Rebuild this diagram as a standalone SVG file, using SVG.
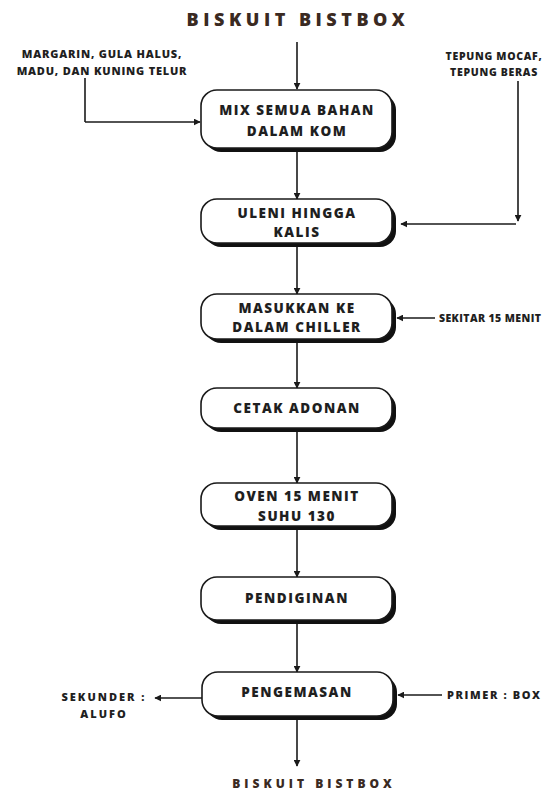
<svg xmlns="http://www.w3.org/2000/svg" width="549" height="794" viewBox="0 0 549 794">
<defs>
<marker id="ah" viewBox="0 0 10 10" refX="9" refY="5" markerWidth="7" markerHeight="7" orient="auto" markerUnits="userSpaceOnUse">
<path d="M0,0 L10,5 L0,10 z" fill="#1a1a1a"/>
</marker>
<style>
.box{fill:#fff;stroke:#1a1a1a;stroke-width:1.6}
.sh{fill:#111}
.bt{font-family:"Open Sans","Liberation Sans",sans-serif;font-weight:800;font-size:13.5px;letter-spacing:1.5px;fill:#1f1f1f;text-anchor:middle}
.lt{font-family:"Open Sans","Liberation Sans",sans-serif;font-weight:800;font-size:11px;letter-spacing:1.3px;fill:#1f1f1f}
.ln{stroke:#1a1a1a;stroke-width:1.6;fill:none}
.ttl{font-family:"Open Sans","Liberation Sans",sans-serif;font-weight:800;fill:#3a2a22;text-anchor:middle}
</style>
</defs>
<rect width="549" height="794" fill="#fff"/>
<text class="ttl" x="298" y="26" style="font-size:18px;letter-spacing:4.5px">BISKUIT BISTBOX</text>

<g id="connectors">
<line class="ln" x1="297" y1="42" x2="297" y2="89" marker-end="url(#ah)"/>
<line class="ln" x1="85" y1="78" x2="85" y2="122"/>
<line class="ln" x1="85" y1="122" x2="200" y2="122" marker-end="url(#ah)"/>
<line class="ln" x1="518" y1="81" x2="518" y2="221" marker-end="url(#ah)"/>
<line class="ln" x1="516" y1="224" x2="401" y2="224" marker-end="url(#ah)"/>
<line class="ln" x1="297" y1="152" x2="297" y2="199" marker-end="url(#ah)"/>
<line class="ln" x1="297" y1="247" x2="297" y2="294" marker-end="url(#ah)"/>
<line class="ln" x1="435" y1="318" x2="397" y2="318" marker-end="url(#ah)"/>
<line class="ln" x1="297" y1="343" x2="297" y2="388" marker-end="url(#ah)"/>
<line class="ln" x1="297" y1="432" x2="297" y2="483" marker-end="url(#ah)"/>
<line class="ln" x1="297" y1="530" x2="297" y2="577" marker-end="url(#ah)"/>
<line class="ln" x1="297" y1="624" x2="297" y2="672" marker-end="url(#ah)"/>
<line class="ln" x1="202" y1="698" x2="155" y2="698" marker-end="url(#ah)"/>
<line class="ln" x1="442" y1="695" x2="398" y2="695" marker-end="url(#ah)"/>
<line class="ln" x1="297" y1="720" x2="297" y2="766" marker-end="url(#ah)"/>
</g>

<g id="in-left">
<text class="lt" x="102" y="58" text-anchor="middle" style="letter-spacing:0.8px">MARGARIN, GULA HALUS,</text>
<text class="lt" x="102" y="75" text-anchor="middle" style="letter-spacing:0.8px">MADU, DAN KUNING TELUR</text>
</g>
<g id="in-right">
<text class="lt" x="494" y="60" text-anchor="middle" style="font-size:10.5px;letter-spacing:0.7px">TEPUNG MOCAF,</text>
<text class="lt" x="494" y="76" text-anchor="middle" style="font-size:10.5px;letter-spacing:0.7px">TEPUNG BERAS</text>
</g>

<g id="n1">
<rect class="sh" x="205" y="94" width="191" height="58" rx="16"/>
<rect class="box" x="201" y="90" width="191" height="58" rx="16"/>
<text class="bt" x="297" y="115">MIX SEMUA BAHAN</text>
<text class="bt" x="297" y="136">DALAM KOM</text>
</g>
<g id="n2">
<rect class="sh" x="205" y="203" width="191" height="44" rx="16"/>
<rect class="box" x="201" y="199" width="191" height="44" rx="16"/>
<text class="bt" x="297" y="218">ULENI HINGGA</text>
<text class="bt" x="297" y="237">KALIS</text>
</g>
<g id="n3">
<rect class="sh" x="205" y="298" width="191" height="45" rx="16"/>
<rect class="box" x="201" y="294" width="191" height="45" rx="16"/>
<text class="bt" x="297" y="313">MASUKKAN KE</text>
<text class="bt" x="297" y="332">DALAM CHILLER</text>
</g>
<g id="sekitar">
<text class="lt" x="439" y="322" style="font-size:10.5px;letter-spacing:0.4px">SEKITAR 15 MENIT</text>
</g>
<g id="n4">
<rect class="sh" x="205" y="392" width="191" height="40" rx="16"/>
<rect class="box" x="201" y="388" width="191" height="40" rx="16"/>
<text class="bt" x="297" y="413">CETAK ADONAN</text>
</g>
<g id="n5">
<rect class="sh" x="205" y="487" width="191" height="43" rx="16"/>
<rect class="box" x="201" y="483" width="191" height="43" rx="16"/>
<text class="bt" x="297" y="501">OVEN 15 MENIT</text>
<text class="bt" x="297" y="521">SUHU 130</text>
</g>
<g id="n6">
<rect class="sh" x="205" y="581" width="191" height="43" rx="16"/>
<rect class="box" x="201" y="577" width="191" height="43" rx="16"/>
<text class="bt" x="297" y="603">PENDIGINAN</text>
</g>
<g id="n7">
<rect class="sh" x="206" y="676" width="191" height="44" rx="16"/>
<rect class="box" x="202" y="672" width="191" height="44" rx="16"/>
<text class="bt" x="297" y="697">PENGEMASAN</text>
</g>
<g id="sekunder">
<text class="lt" x="104" y="701" text-anchor="middle" style="letter-spacing:2px">SEKUNDER :</text>
<text class="lt" x="104" y="718" text-anchor="middle" style="letter-spacing:2px">ALUFO</text>
</g>
<g id="primer">
<text class="lt" x="447" y="699" style="letter-spacing:1.6px">PRIMER : BOX</text>
</g>
<text class="ttl" x="314" y="788" style="font-size:12px;letter-spacing:4px">BISKUIT BISTBOX</text>
</svg>
